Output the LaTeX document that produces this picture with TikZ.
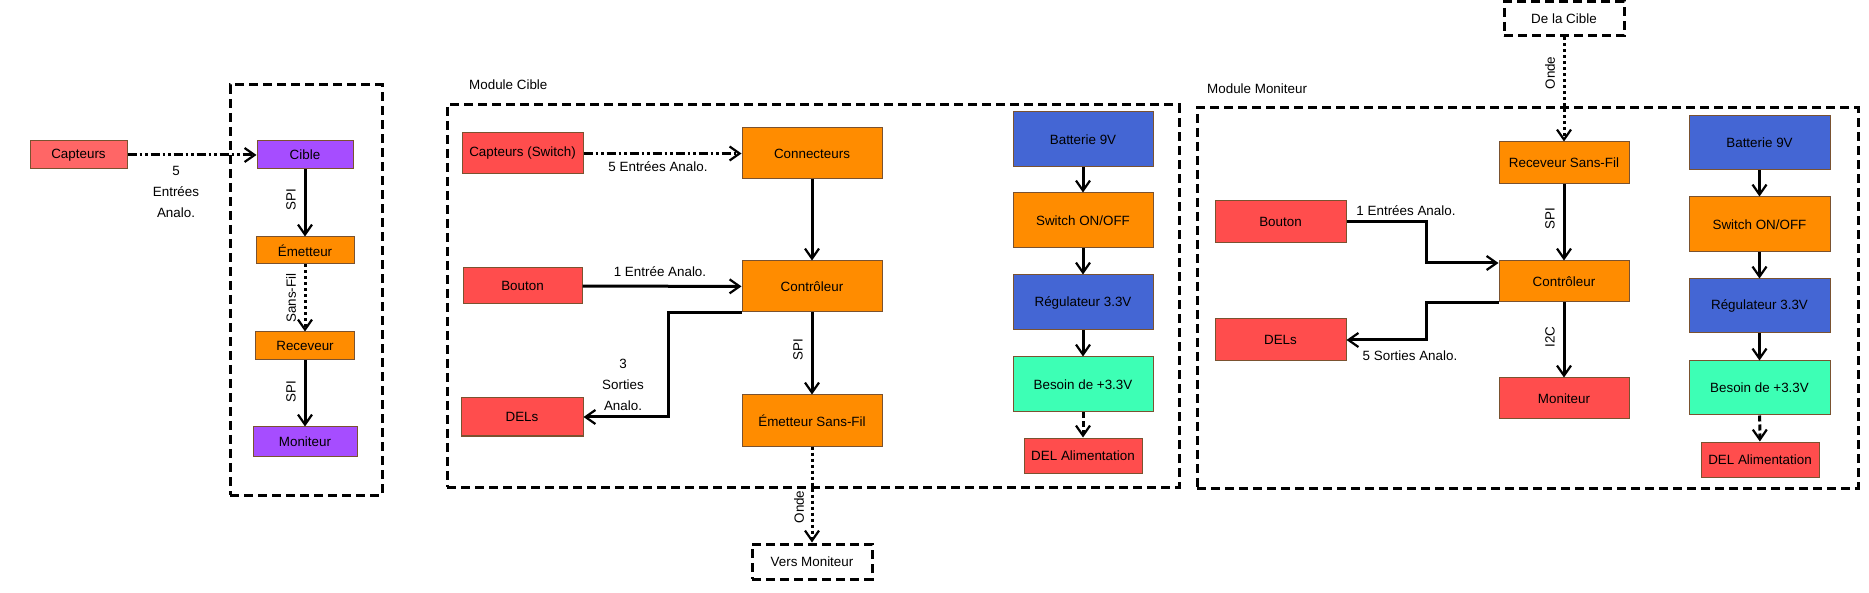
\documentclass[tikz,border=0pt]{standalone}
\usepackage{fontspec}
\setmainfont{Liberation Sans}
\usetikzlibrary{arrows.meta}
\definecolor{cred}{HTML}{FF4D4D}
\definecolor{cpink}{HTML}{FF6666}
\definecolor{cpurple}{HTML}{A64DFF}
\definecolor{corange}{HTML}{FF8C00}
\definecolor{cblue}{HTML}{4466D4}
\definecolor{cgreen}{HTML}{3DFFB5}
\definecolor{cstroke}{HTML}{7A5230}
\tikzset{
  box/.style={draw=cstroke, line width=1pt, inner sep=0pt, text=black},
  bx/.style 2 args={box, minimum width=#1pt, minimum height=#2pt},
  frame/.style={draw=black, line width=3pt, dash pattern=on 9pt off 5pt},
  tframe/.style 2 args={frame, fill=white, inner sep=0pt, minimum width=#1pt, minimum height=#2pt},
  arr/.style={draw=black, line width=3pt, -{Straight Barb[length=10pt,width=14pt,line width=2.2pt]}},
  dashdotdot/.style={dash pattern=on 9pt off 3pt on 2.5pt off 3pt on 2.5pt off 3pt},
  dotline/.style={dash pattern=on 3pt off 3pt},
  dashline/.style={dash pattern=on 6pt off 3pt},
  lbl/.style={inner sep=0pt, text=black},
  rlbl/.style={inner sep=0pt, text=black, rotate=90},
  mlbl/.style={inner sep=0pt, text=black, align=center, font=\fontsize{13.4}{21}\selectfont}
}
\begin{document}
\begin{tikzpicture}[x=1pt, y=-1pt, font=\fontsize{13.4}{16}\selectfont]
\useasboundingbox (0,0) rectangle (1869,593);

% ---------- frames ----------
\node[frame, minimum width=152pt, minimum height=410pt] (fleft) at (306,290) {};
\node[frame, minimum width=732pt, minimum height=382pt] (fcible) at (813,296) {};
\node[frame, minimum width=661pt, minimum height=380pt] (fmon) at (1527.5,298) {};
\node[lbl, anchor=west] (tcible) at (469,85) {Module Cible};
\node[lbl, anchor=west] (tmon) at (1207,89) {Module Moniteur};

% ---------- left overview ----------
\node[bx={97}{28}, fill=cpink] (lcapt) at (78.5,155) {Capteurs};
\node[bx={96}{28}, fill=cpurple] (lcible) at (305,155) {Cible};
\node[bx={98}{27}, fill=corange] (lemet) at (305,250.5) {Émetteur};
\node[bx={99}{28}, fill=corange] (lrecv) at (305,346) {Receveur};
\node[bx={104}{29}, fill=cpurple] (lmoni) at (305,441.5) {Moniteur};

\draw[arr, dashdotdot] (lcapt) -- (lcible);
\draw[arr] (lcible) -- (lemet);
\draw[arr, dotline] (lemet) -- (lrecv);
\draw[arr] (lrecv) -- (lmoni);
\node[mlbl] (l5e) at (176,191.5) {5\\Entrées\\Analo.};
\node[rlbl] (lspi1) at (291,200) {SPI};
\node[rlbl] (lsf) at (291,298) {Sans-Fil};
\node[rlbl] (lspi2) at (291,392) {SPI};

% ---------- Module Cible ----------
\node[bx={121}{41}, fill=cred] (ccap) at (522.5,153.5) {Capteurs (Switch)};
\node[bx={140}{51}, fill=corange] (cconn) at (812,153.5) {Connecteurs};
\node[bx={119}{36}, fill=cred] (cbout) at (522.5,286) {Bouton};
\node[bx={140}{51}, fill=corange] (cctrl) at (812,286.5) {Contrôleur};
\node[bx={122}{38}, fill=cred] (cdels) at (522,417) {DELs};
\node[bx={140}{51}, fill=corange] (cems) at (812,420.5) {Émetteur Sans-Fil};
\node[tframe={120}{35}] (cvers) at (812,561.5) {Vers Moniteur};

\node[bx={140}{55}, fill=cblue] (cbat) at (1083,139.5) {Batterie 9V};
\node[bx={140}{55}, fill=corange] (csw) at (1083,220.5) {Switch ON/OFF};
\node[bx={140}{55}, fill=cblue] (creg) at (1083,302.5) {Régulateur 3.3V};
\node[bx={140}{55}, fill=cgreen] (cbes) at (1083,384.5) {Besoin de +3.3V};
\node[bx={118}{35}, fill=cred] (cdel) at (1083,455.5) {DEL Alimentation};

\coordinate (cd1) at (668,417);
\draw[arr, dashdotdot] (ccap) -- (cconn);
\draw[arr] (cconn) -- (cctrl);
\draw[arr] (cbout) -- (cctrl);
\draw[arr] (cctrl.south west) -| (cd1) -- (cdels.east);
\draw[arr] (cctrl) -- (cems);
\draw[arr, dotline] (cems) -- (cvers);
\draw[arr] (cbat) -- (csw);
\draw[arr] (csw) -- (creg);
\draw[arr] (creg) -- (cbes);
\draw[arr, dashline] (cbes) -- (cdel);

\node[lbl] (c5e) at (658,167) {5 Entrées Analo.};
\node[lbl] (c1e) at (660,272) {1 Entrée Analo.};
\node[mlbl] (c3s) at (623,385) {3\\Sorties\\Analo.};
\node[rlbl] (cspi) at (798,350) {SPI};
\node[rlbl] (conde) at (799,507) {Onde};

% ---------- Module Moniteur ----------
\node[tframe={120}{34}] (mde) at (1564,19) {De la Cible};
\node[bx={130}{42}, fill=corange] (mrec) at (1564,163) {Receveur Sans-Fil};
\node[bx={131}{42}, fill=cred] (mbout) at (1280.5,222) {Bouton};
\node[bx={130}{41}, fill=corange] (mctrl) at (1564,281.5) {Contrôleur};
\node[bx={131}{42}, fill=cred] (mdels) at (1280.5,340) {DELs};
\node[bx={130}{41}, fill=cred] (mmon) at (1564,398.5) {Moniteur};

\node[bx={141}{54}, fill=cblue] (mbat) at (1759.5,143) {Batterie 9V};
\node[bx={141}{55}, fill=corange] (msw) at (1759.5,224.5) {Switch ON/OFF};
\node[bx={141}{54}, fill=cblue] (mreg) at (1759.5,306) {Régulateur 3.3V};
\node[bx={141}{54}, fill=cgreen] (mbes) at (1759.5,388) {Besoin de +3.3V};
\node[bx={118}{35}, fill=cred] (mdel) at (1760,459.5) {DEL Alimentation};

\coordinate (mb1) at (1426,263);
\coordinate (md1) at (1426,340);
\draw[arr, dotline] (mde) -- (mrec);
\draw[arr] (mrec) -- (mctrl);
\draw[arr] (mbout.east) -| (mb1) -- (mctrl.west |- mb1);
\draw[arr] (mctrl.south west) -| (md1) -- (mdels.east);
\draw[arr] (mctrl) -- (mmon);
\draw[arr] (mbat) -- (msw);
\draw[arr] (msw) -- (mreg);
\draw[arr] (mreg) -- (mbes);
\draw[arr, dashline] (mbes) -- (mdel);

\node[rlbl] (monde) at (1550,73) {Onde};
\node[rlbl] (mspi) at (1550,219) {SPI};
\node[rlbl] (mi2c) at (1550,337) {I2C};
\node[lbl] (m1e) at (1406,211) {1 Entrées Analo.};
\node[lbl] (m5s) at (1410,356) {5 Sorties Analo.};
\end{tikzpicture}
\end{document}
